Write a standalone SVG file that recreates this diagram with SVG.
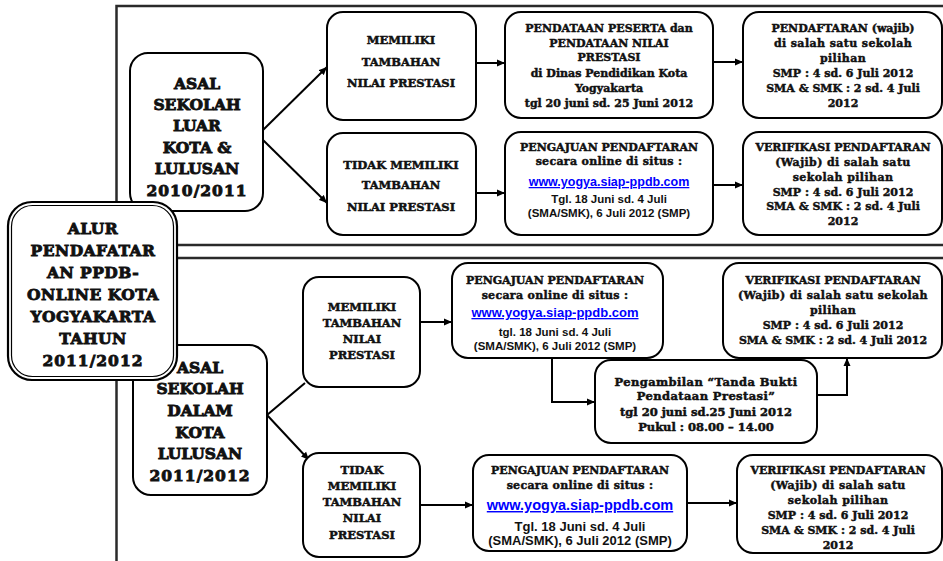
<svg xmlns="http://www.w3.org/2000/svg" width="943" height="561" viewBox="0 0 943 561">
<style>
.bg{fill:#fff}
.frame{stroke:#2a2a2a;stroke-width:2.5;fill:none}
.box{fill:#fff;stroke:#000;stroke-width:2}
.slab{font-family:"DejaVu Serif","Liberation Serif",serif;font-weight:bold;fill:#111;stroke:#111;text-anchor:middle}
.big{font-size:15.5px;stroke-width:0.9}
.med{font-size:11.5px;stroke-width:0.5}
.sm{font-size:11px;stroke-width:0.45}
.arial{font-family:"Liberation Sans",Arial,sans-serif;font-weight:bold;fill:#111;text-anchor:middle}
.url{font-family:"Liberation Sans",Arial,sans-serif;font-weight:bold;fill:#0000ff;text-anchor:middle;text-decoration:underline}
.conn{stroke:#000;stroke-width:2;fill:none}
</style>
<defs>
<marker id="ah" markerUnits="userSpaceOnUse" markerWidth="9" markerHeight="8" refX="8" refY="4" orient="auto">
<path d="M0,0.5 L8,4 L0,7.5 Z" fill="#000"/>
</marker>
</defs>
<rect class="bg" x="0" y="0" width="943" height="561"/>
<g id="frame">
<path class="frame" d="M116.5,205 V6 H943"/>
<path class="frame" d="M177,245 H943 M177,258 H943"/>
<path class="frame" d="M116.5,378 V561"/>
</g>
<g id="connectors">
<line class="conn" x1="263" y1="130" x2="327" y2="67" marker-end="url(#ah)"/>
<line class="conn" x1="263" y1="140" x2="327" y2="203" marker-end="url(#ah)"/>
<line class="conn" x1="476" y1="63" x2="505" y2="63" marker-end="url(#ah)"/>
<line class="conn" x1="713" y1="62" x2="743" y2="62" marker-end="url(#ah)"/>
<line class="conn" x1="476" y1="193" x2="505" y2="193" marker-end="url(#ah)"/>
<line class="conn" x1="713" y1="185" x2="743" y2="185" marker-end="url(#ah)"/>
<line class="conn" x1="267" y1="415" x2="305" y2="383"/>
<line class="conn" x1="267" y1="415" x2="309" y2="460" marker-end="url(#ah)"/>
<line class="conn" x1="420" y1="322" x2="452" y2="322" marker-end="url(#ah)"/>
<line class="conn" x1="420" y1="505" x2="473" y2="505" marker-end="url(#ah)"/>
<line class="conn" x1="687" y1="503" x2="737" y2="503" marker-end="url(#ah)"/>
<polyline class="conn" points="552,358 552,402 595,402" marker-end="url(#ah)"/>
<polyline class="conn" points="817,395 847,395 847,358" marker-end="url(#ah)"/>
</g>
<g id="asal-luar">
<rect class="box" x="130" y="53" width="133" height="158" rx="18"/>
<text class="slab big" x="197" y="89">ASAL</text>
<text class="slab big" x="197" y="110">SEKOLAH</text>
<text class="slab big" x="197" y="131">LUAR</text>
<text class="slab big" x="197" y="153">KOTA &amp;</text>
<text class="slab big" x="197" y="174">LULUSAN</text>
<text class="slab big" x="197" y="196" letter-spacing="1">2010/2011</text>
</g>
<g id="memiliki-1">
<rect class="box" x="327" y="12" width="149" height="108" rx="16"/>
<text class="slab med" x="401" y="44">MEMILIKI</text>
<text class="slab med" x="401" y="66">TAMBAHAN</text>
<text class="slab med" x="401" y="87">NILAI PRESTASI</text>
</g>
<g id="pendataan">
<rect class="box" x="505" y="12" width="208" height="106" rx="16"/>
<text class="slab sm" x="609" y="32">PENDATAAN PESERTA dan</text>
<text class="slab sm" x="609" y="47">PENDATAAN NILAI</text>
<text class="slab sm" x="609" y="61">PRESTASI</text>
<text class="slab sm" x="609" y="77">di Dinas Pendidikan Kota</text>
<text class="slab sm" x="609" y="92">Yogyakarta</text>
<text class="slab sm" x="609" y="107">tgl 20 juni sd. 25 Juni 2012</text>
</g>
<g id="pendaftaran-wajib">
<rect class="box" x="743" y="12" width="199" height="106" rx="16"/>
<text class="slab sm" x="843" y="32">PENDAFTARAN (wajib)</text>
<text class="slab sm" x="843" y="47" letter-spacing="0.4">di salah satu sekolah</text>
<text class="slab sm" x="843" y="62" letter-spacing="0.4">pilihan</text>
<text class="slab sm" x="843" y="77">SMP : 4 sd. 6 Juli 2012</text>
<text class="slab sm" x="843" y="92">SMA &amp; SMK : 2 sd. 4 Juli</text>
<text class="slab sm" x="843" y="107">2012</text>
</g>
<g id="tidak-memiliki-1">
<rect class="box" x="327" y="133" width="149" height="102" rx="16"/>
<text class="slab med" x="401" y="169">TIDAK MEMILIKI</text>
<text class="slab med" x="401" y="189">TAMBAHAN</text>
<text class="slab med" x="401" y="211">NILAI PRESTASI</text>
</g>
<g id="pengajuan-1">
<rect class="box" x="505" y="132" width="208" height="103" rx="16"/>
<text class="slab sm" x="609" y="151">PENGAJUAN PENDAFTARAN</text>
<text class="slab sm" x="609" y="165" letter-spacing="0.3">secara online di situs :</text>
<text class="url" x="609" y="186" font-size="12.5px">www.yogya.siap-ppdb.com</text>
<text class="arial" x="609" y="203" font-size="11.5px">Tgl. 18 Juni sd. 4 Juli</text>
<text class="arial" x="609" y="217" font-size="11.5px">(SMA/SMK), 6 Juli 2012 (SMP)</text>
</g>
<g id="verifikasi-1">
<rect class="box" x="743" y="132" width="199" height="103" rx="16"/>
<text class="slab sm" x="843" y="151">VERIFIKASI PENDAFTARAN</text>
<text class="slab sm" x="843" y="166" letter-spacing="0.4">(Wajib) di salah satu</text>
<text class="slab sm" x="843" y="181" letter-spacing="0.4">sekolah pilihan</text>
<text class="slab sm" x="843" y="196">SMP : 4 sd. 6 Juli 2012</text>
<text class="slab sm" x="843" y="210">SMA &amp; SMK : 2 sd. 4 Juli</text>
<text class="slab sm" x="843" y="225">2012</text>
</g>
<g id="asal-dalam">
<rect class="box" x="133" y="345" width="134" height="150" rx="18"/>
<text class="slab big" x="200" y="373">ASAL</text>
<text class="slab big" x="200" y="394">SEKOLAH</text>
<text class="slab big" x="200" y="416">DALAM</text>
<text class="slab big" x="200" y="438">KOTA</text>
<text class="slab big" x="200" y="459">LULUSAN</text>
<text class="slab big" x="200" y="481" letter-spacing="1">2011/2012</text>
</g>
<g id="alur">
<rect x="8" y="202" width="169" height="178" rx="24" fill="#fff" stroke="#000" stroke-width="2.2"/>
<rect x="11.5" y="205.5" width="162" height="171" rx="21" fill="none" stroke="#000" stroke-width="1.2"/>
<text class="slab big" x="93" y="234" letter-spacing="0.5">ALUR</text>
<text class="slab big" x="93" y="256" letter-spacing="0.5">PENDAFATAR</text>
<text class="slab big" x="93" y="278" letter-spacing="0.5">AN PPDB-</text>
<text class="slab big" x="93" y="300" letter-spacing="0.5">ONLINE KOTA</text>
<text class="slab big" x="93" y="322" letter-spacing="0.5">YOGYAKARTA</text>
<text class="slab big" x="93" y="344" letter-spacing="0.5">TAHUN</text>
<text class="slab big" x="93" y="366" letter-spacing="1">2011/2012</text>
</g>
<g id="memiliki-2">
<rect class="box" x="303" y="277" width="117" height="110" rx="16"/>
<text class="slab med" x="362" y="311">MEMILIKI</text>
<text class="slab med" x="362" y="327">TAMBAHAN</text>
<text class="slab med" x="362" y="343">NILAI</text>
<text class="slab med" x="362" y="359">PRESTASI</text>
</g>
<g id="tidak-memiliki-2">
<rect class="box" x="303" y="453" width="117" height="104" rx="16"/>
<text class="slab med" x="362" y="474">TIDAK</text>
<text class="slab med" x="362" y="490">MEMILIKI</text>
<text class="slab med" x="362" y="506">TAMBAHAN</text>
<text class="slab med" x="362" y="522">NILAI</text>
<text class="slab med" x="362" y="539">PRESTASI</text>
</g>
<g id="pengajuan-2">
<rect class="box" x="452" y="263" width="211" height="95" rx="16"/>
<text class="slab sm" x="555" y="284">PENGAJUAN PENDAFTARAN</text>
<text class="slab sm" x="555" y="299" letter-spacing="0.3">secara online di situs :</text>
<text class="url" x="555" y="317" font-size="13px">www.yogya.siap-ppdb.com</text>
<text class="arial" x="555" y="336" font-size="11.5px">tgl. 18 Juni sd. 4 Juli</text>
<text class="arial" x="555" y="350" font-size="11.5px">(SMA/SMK), 6 Juli 2012 (SMP)</text>
</g>
<g id="verifikasi-2">
<rect class="box" x="723" y="263" width="219" height="95" rx="16"/>
<text class="slab sm" x="833" y="284">VERIFIKASI PENDAFTARAN</text>
<text class="slab sm" x="833" y="299" letter-spacing="0.4">(Wajib) di salah satu sekolah</text>
<text class="slab sm" x="833" y="314" letter-spacing="0.4">pilihan</text>
<text class="slab sm" x="833" y="329">SMP : 4 sd. 6 Juli 2012</text>
<text class="slab sm" x="833" y="344">SMA &amp; SMK : 2 sd. 4 Juli 2012</text>
</g>
<g id="pengambilan">
<rect class="box" x="595" y="360" width="222" height="83" rx="16"/>
<text class="slab med" x="706" y="386" letter-spacing="0.4">Pengambilan “Tanda Bukti</text>
<text class="slab med" x="706" y="400" letter-spacing="0.4">Pendataan Prestasi”</text>
<text class="slab med" x="706" y="416">tgl 20 juni sd.25 Juni 2012</text>
<text class="slab med" x="706" y="431">Pukul : 08.00 – 14.00</text>
</g>
<g id="pengajuan-3">
<rect class="box" x="473" y="455" width="214" height="96" rx="16"/>
<text class="slab sm" x="580" y="474">PENGAJUAN PENDAFTARAN</text>
<text class="slab sm" x="580" y="489" letter-spacing="0.3">secara online di situs :</text>
<text class="url" x="580" y="510" font-size="14.5px">www.yogya.siap-ppdb.com</text>
<text class="arial" x="580" y="531" font-size="13px">Tgl. 18 Juni sd. 4 Juli</text>
<text class="arial" x="580" y="545" font-size="13px">(SMA/SMK), 6 Juli 2012 (SMP)</text>
</g>
<g id="verifikasi-3">
<rect class="box" x="737" y="455" width="205" height="98" rx="16"/>
<text class="slab sm" x="838" y="474">VERIFIKASI PENDAFTARAN</text>
<text class="slab sm" x="838" y="489" letter-spacing="0.4">(Wajib) di salah satu</text>
<text class="slab sm" x="838" y="504" letter-spacing="0.4">sekolah pilihan</text>
<text class="slab sm" x="838" y="519">SMP : 4 sd. 6 Juli 2012</text>
<text class="slab sm" x="838" y="534">SMA &amp; SMK : 2 sd. 4 Juli</text>
<text class="slab sm" x="838" y="549">2012</text>
</g>
</svg>
